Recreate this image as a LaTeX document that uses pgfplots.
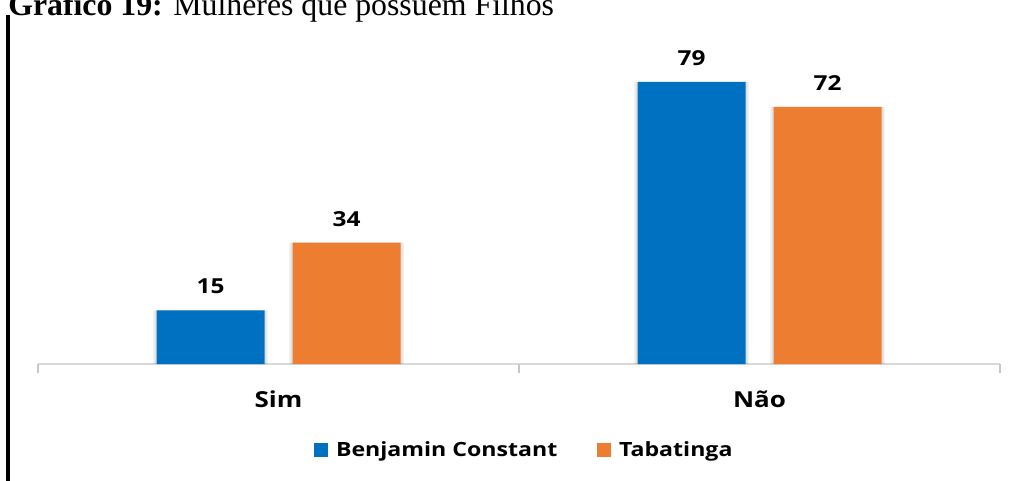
\documentclass[border=0pt]{standalone}
\usepackage{fontspec}
\setmainfont{Liberation Serif}
\newfontfamily\chartfont{Open Sans}[FakeStretch=1.18]
\usepackage{pgfplots}
\usepackage{pgfplotstable}
\pgfplotsset{compat=1.18}
\definecolor{bcblue}{HTML}{0070C0}
\definecolor{taborange}{HTML}{ED7D31}
\definecolor{axisgray}{HTML}{D9D9D9}
\definecolor{tickgray}{HTML}{C8C8C8}

\pgfplotstableread{
x bc tab
0 15 34
1 79 72
}\filhos

\begin{document}
\begin{tikzpicture}
\useasboundingbox (0pt,0pt) rectangle (764.25pt,360pt);
% frame rule on the left and the caption above the chart
\draw[line width=2.7pt] (5.8pt,348.75pt) -- (5.8pt,-4pt);
\node[anchor=base west, inner sep=0, font=\fontsize{23.85}{28}\selectfont] at (6pt,348.75pt)
  {\textbf{Gráfico 19:} Mulheres que possuem Filhos};
\begin{axis}[
  at={(28.5pt,87pt)}, anchor=south west,
  scale only axis, width=721.5pt, height=241pt,
  ymin=0, ymax=90, xmin=-0.5, xmax=1.5,
  axis y line=none, axis x line*=bottom,
  x axis line style={draw=axisgray, line width=1.1pt, -},
  clip=false,
  ybar, bar width=81pt,
  xtick={0,1}, xticklabels={Sim,Não},
  major tick length=0pt,
  extra x ticks={-0.5,0.5,1.5}, extra x tick labels={},
  extra x tick style={tick align=outside, major tick length=6.75pt,
    tick style={draw=tickgray, line width=1.1pt}},
  xticklabel style={font=\chartfont\bfseries\fontsize{16.5}{20}\selectfont,
    anchor=base, yshift=-32.25pt},
  /pgf/number format/assume math mode=true,
  nodes near coords style={font=\chartfont\bfseries\fontsize{15.5}{18}\selectfont,
    anchor=south, inner sep=0pt, yshift=12pt, text=black},
  legend columns=-1,
  legend style={at={(axis description cs:0.506,-0.268)}, anchor=center, draw=none,
    font=\chartfont\bfseries\fontsize{14.7}{18}\selectfont,
    /tikz/every odd column/.append style={column sep=3.75pt},
    /tikz/every even column/.append style={column sep=28pt}},
  legend image code/.code={\fill[#1] (0pt,-5.25pt) rectangle (10.5pt,5.25pt);},
]
% soft shadow behind the bars
\addplot[forget plot, fill=black, fill opacity=0.05, draw=none, bar width=86pt, bar shift=-51pt] table[x=x,y=bc] {\filhos};
\addplot[forget plot, fill=black, fill opacity=0.07, draw=none, bar width=84pt, bar shift=-51pt] table[x=x,y=bc] {\filhos};
\addplot[forget plot, fill=black, fill opacity=0.05, draw=none, bar width=86pt, bar shift=51pt] table[x=x,y=tab] {\filhos};
\addplot[forget plot, fill=black, fill opacity=0.07, draw=none, bar width=84pt, bar shift=51pt] table[x=x,y=tab] {\filhos};
% the two series
\addplot[fill=bcblue, draw=none, bar shift=-51pt, nodes near coords] table[x=x,y=bc] {\filhos};
\addplot[fill=taborange, draw=none, bar shift=51pt, nodes near coords] table[x=x,y=tab] {\filhos};
\legend{Benjamin Constant, Tabatinga}
\end{axis}
\end{tikzpicture}
\end{document}
